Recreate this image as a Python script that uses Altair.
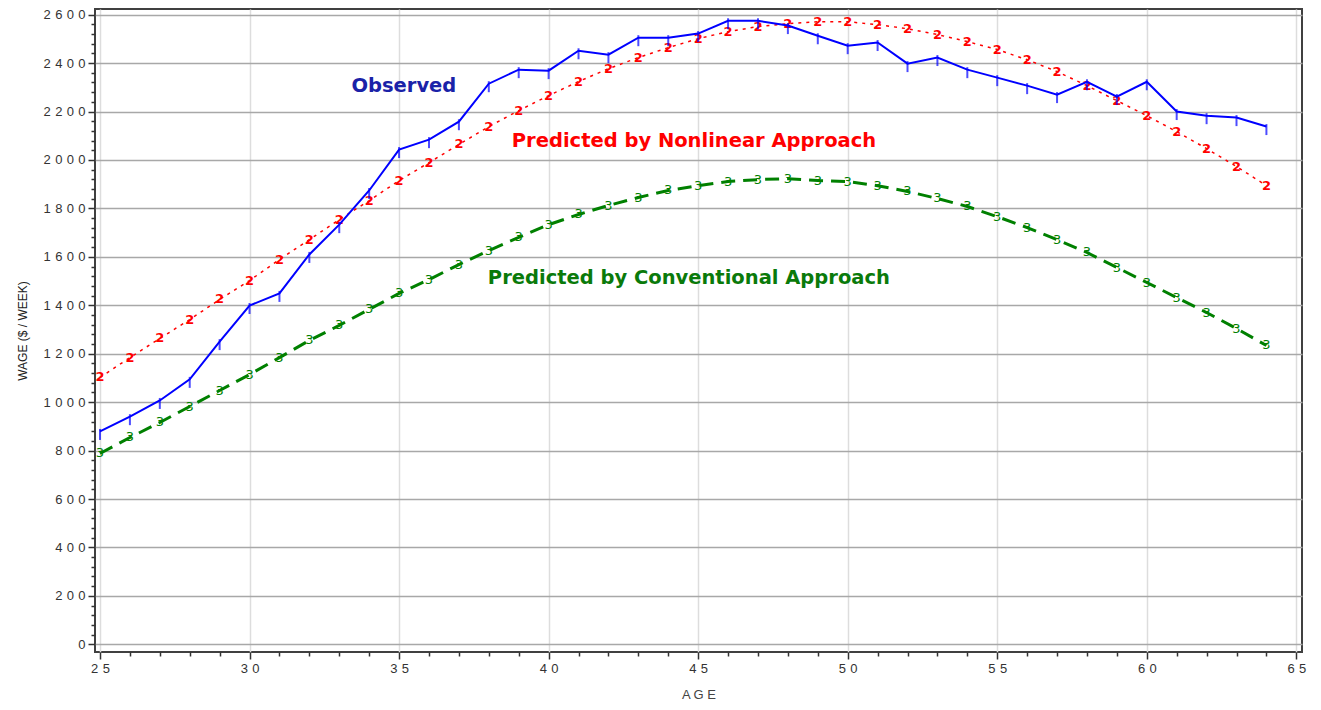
import altair as alt
import pandas as pd

ages = list(range(25, 65))
observed = [879, 940, 1007, 1094, 1250, 1399, 1449, 1610, 1733, 1874,
            2043, 2084, 2158, 2315, 2373, 2369, 2451, 2435, 2505, 2505,
            2522, 2575, 2575, 2555, 2513, 2472, 2485, 2398, 2423, 2373,
            2340, 2307, 2270, 2323, 2262, 2323, 2200, 2183, 2175, 2138]
nonlinear = [1102, 1184, 1263, 1341, 1424, 1502, 1589, 1671, 1754, 1832,
             1915, 1989, 2064, 2138, 2204, 2266, 2324, 2377, 2423, 2464,
             2501, 2530, 2551, 2563, 2571, 2571, 2559, 2542, 2518, 2489,
             2456, 2414, 2365, 2307, 2245, 2183, 2117, 2047, 1973, 1894]
conventional = [788, 854, 916, 982, 1048, 1114, 1184, 1255, 1317, 1383,
                1449, 1506, 1568, 1626, 1680, 1733, 1775, 1812, 1845, 1874,
                1894, 1911, 1919, 1923, 1915, 1911, 1894, 1870, 1841, 1808,
                1766, 1721, 1671, 1618, 1556, 1494, 1432, 1370, 1304, 1234]

x_ticks = list(range(25, 66))
y_ticks = list(range(0, 2601, 40))

df = pd.DataFrame({"age": ages, "observed": observed,
                   "nonlinear": nonlinear, "conventional": conventional})

spaced = "join(split(datum.label, ''), '\u2004')"

xscale = alt.Scale(domain=[24.833, 65.19], nice=False, zero=False)
yscale = alt.Scale(domain=[-31.8, 2623.5], nice=False, zero=False)

xaxis = alt.Axis(
    values=x_ticks, tickCount=200, format="d", title="A G E", domain=False,
    labelExpr=f"datum.value % 5 === 0 ? {spaced} : ''",
    labelFont="Liberation Sans", labelFontSize=13, labelColor="#333333",
    labelPadding=3, labelFlush=False, labelOverlap=False,
    tickColor="#333333", tickWidth=1.5,
    tickSize={"condition": {"test": "datum.value % 5 === 0", "value": 7}, "value": 4},
    grid=True,
    gridColor={"condition": {"test": "datum.value % 5 === 0", "value": "#dddddd"}, "value": "transparent"},
    gridWidth=1.5,
    titleFont="Liberation Sans", titleFontSize=13, titleFontWeight="normal",
    titleColor="#444444", titlePadding=13,
)
yaxis = alt.Axis(
    values=y_ticks, tickCount=200, format="d", title="WAGE ($ / WEEK)", domain=False,
    labelExpr=f"datum.value % 200 === 0 ? {spaced} : ''",
    labelFont="Liberation Sans", labelFontSize=13, labelColor="#333333",
    labelPadding=3, labelFlush=False, labelOverlap=False,
    tickColor="#333333", tickWidth=1.5,
    tickSize={"condition": {"test": "datum.value % 200 === 0", "value": 7}, "value": 4},
    grid=True,
    gridColor={"condition": {"test": "datum.value % 200 === 0", "value": "#a8a8a8"}, "value": "transparent"},
    gridWidth=1.5,
    titleFont="Liberation Sans", titleFontSize=12, titleFontWeight="normal",
    titleColor="#222222", titlePadding=14,
)

base = alt.Chart(df)
X = alt.X("age:Q", scale=xscale, axis=xaxis)

def Y(field):
    return alt.Y(f"{field}:Q", scale=yscale, axis=yaxis)

green_line = base.mark_line(color="#008000", strokeWidth=3, strokeDash=[14, 8]).encode(x=X, y=Y("conventional"))
green_txt = base.mark_text(color="#008000", font="DejaVu Sans", fontSize=13, text="3").encode(x=X, y=Y("conventional"))
red_line = base.mark_line(color="#ff0000", strokeWidth=1.5, strokeDash=[3, 5]).encode(x=X, y=Y("nonlinear"))
red_txt = base.mark_text(color="#ff0000", font="DejaVu Sans", fontWeight="bold", fontSize=13, text="2").encode(x=X, y=Y("nonlinear"))
blue_line = base.mark_line(color="#0000ff", strokeWidth=2).encode(x=X, y=Y("observed"))
blue_tick = base.mark_tick(color="#0000ff", orient="vertical", size=11, thickness=2, yOffset=3).encode(x=X, y=Y("observed"))

ann_font = dict(font="DejaVu Sans", fontWeight="bold", fontSize=19.5, align="center", baseline="middle")
ann_obs = alt.Chart().mark_text(color="#1a22a8", text="Observed", **ann_font).encode(
    x=alt.datum(35.16), y=alt.datum(2306))
ann_nl = alt.Chart().mark_text(color="#ff0000", text="Predicted by Nonlinear Approach", **ann_font).encode(
    x=alt.datum(44.86), y=alt.datum(2078))
ann_cv = alt.Chart().mark_text(color="#0a7a0a", text="Predicted by Conventional Approach", **ann_font).encode(
    x=alt.datum(44.69), y=alt.datum(1512))

chart = alt.layer(
    green_line, green_txt, red_line, red_txt, blue_line, blue_tick,
    ann_obs, ann_nl, ann_cv,
).properties(
    width=1207, height=643,
    padding={"left": 87, "top": 1, "right": 11, "bottom": 50},
    autosize=alt.AutoSizeParams(type="none"),
    background="white",
).configure_view(stroke="#404040", strokeWidth=2)

chart.save("out.html", embed_options={"renderer": "svg", "actions": False})
